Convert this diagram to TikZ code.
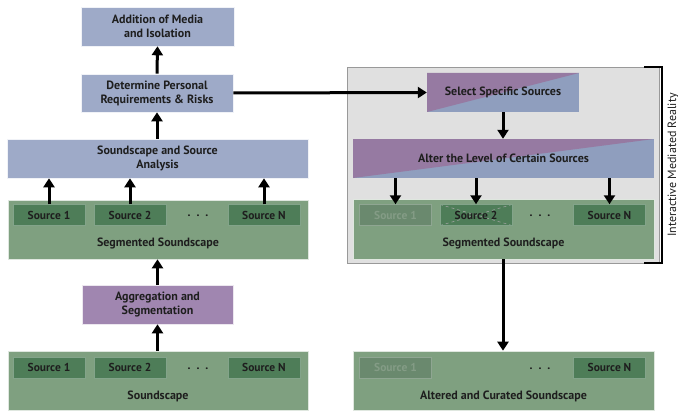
\documentclass[tikz,border=0pt]{standalone}
\usepackage{fontspec}
\setmainfont{PT Sans}
\usetikzlibrary{arrows.meta}

\definecolor{boxblue}{RGB}{158,170,200}
\definecolor{boxpurple}{RGB}{160,134,176}
\definecolor{splitpurple}{RGB}{150,122,162}
\definecolor{splitblue}{RGB}{143,158,190}
\definecolor{scapegreen}{RGB}{127,160,128}
\definecolor{srcgreen}{RGB}{78,125,88}
\definecolor{fadegreen}{RGB}{106,137,110}
\definecolor{fadetext}{RGB}{132,156,134}
\definecolor{areagrey}{RGB}{224,224,224}
\definecolor{textdark}{RGB}{30,30,30}

\tikzset{
  lbl/.style={font=\bfseries\fontsize{12}{14}\selectfont, text=textdark, align=center},
  bluebox/.style={lbl, fill=boxblue, draw=white!85!boxblue, line width=0.6pt},
  purplebox/.style={lbl, fill=boxpurple, draw=white!80!boxpurple, line width=0.6pt},
  splitbox/.style={lbl, fill=splitblue, path picture={
      \fill [splitpurple] (path picture bounding box.south west)
        -- (path picture bounding box.north west)
        -- (path picture bounding box.north east) -- cycle;}},
  scapebox/.style={fill=scapegreen, draw=white!75!scapegreen, line width=0.6pt},
  srcbox/.style={lbl, font=\bfseries\fontsize{11.5}{13}\selectfont, fill=srcgreen,
      draw=white!30!srcgreen, line width=0.5pt,
      minimum width=72, minimum height=21, inner sep=0pt},
  fadedsrc/.style={srcbox, fill=fadegreen, draw=white!25!fadegreen, text=fadetext},
  crossed/.style={path picture={
      \draw [dashed, gray!70, line width=0.5pt]
        (path picture bounding box.south west) -- (path picture bounding box.north east)
        (path picture bounding box.north west) -- (path picture bounding box.south east);}},
  arr/.style={line width=3pt, -{Triangle[width=11pt,length=9pt]}},
}

\begin{document}
\begin{tikzpicture}[x=1pt,y=-1pt]
    \useasboundingbox (0,0) rectangle (678,412);
    % left column
    \node [bluebox, minimum width=153, minimum height=39] (media) at (157.5,26.5) {Addition of Media\\and Isolation};
    \node [bluebox, minimum width=152, minimum height=38] (reqs) at (157,93) {Determine Personal\\Requirements \& Risks};
    \node [bluebox, minimum width=301, minimum height=39] (analysis) at (157.5,158.5) {Soundscape and Source\\Analysis};
    \node [scapebox, minimum width=300, minimum height=59] (segl) at (158,229.5) {};
    \node [srcbox] (segla) at (49,215) {Source 1};
    \node [srcbox] (seglb) at (130,215) {Source 2};
    \node [srcbox] (segln) at (264,215) {Source N};
    \node [lbl] (segldots) at (198,216) {.\,\,\,.\,\,\,.};
    \node [lbl] (segltext) at (158,243) {Segmented Soundscape};
    \node [purplebox, minimum width=151, minimum height=39] (agg) at (157.5,304.5) {Aggregation and\\Segmentation};
    \node [scapebox, minimum width=300, minimum height=59] (scape) at (158,380.5) {};
    \node [srcbox] (scapea) at (49,367.5) {Source 1};
    \node [srcbox] (scapeb) at (130,367.5) {Source 2};
    \node [srcbox] (scapen) at (264,367.5) {Source N};
    \node [lbl] (scapedots) at (198,368.5) {.\,\,\,.\,\,\,.};
    \node [lbl] (scapetext) at (158,396) {Soundscape};
    \draw [arr] (scape.north -| agg) -- (agg.south);
    \draw [arr] (agg.north) -- (segl.south -| agg);
    \draw [arr] (segla.north) -- (analysis.south -| segla);
    \draw [arr] (seglb.north) -- (analysis.south -| seglb);
    \draw [arr] (segln.north) -- (analysis.south -| segln);
    \draw [arr] (analysis.north -| reqs) -- (reqs.south);
    \draw [arr] (reqs.north) -- (media.south);
    % interactive mediated reality
    \node [fill=areagrey, draw=gray!80, line width=0.6pt, minimum width=312, minimum height=196] (imr) at (503,165) {};
    \draw [line width=2.2pt] ([xshift=-15pt]imr.north east) -- ([xshift=3pt]imr.north east)
        -- ([xshift=3pt]imr.south east) -- ([xshift=-15pt]imr.south east);
    \node [rotate=90, font=\fontsize{12}{14}\selectfont, text=textdark] (imrtext) at (673,165) {Interactive Mediated Reality};
    \node [splitbox, minimum width=152, minimum height=39] (select) at (503,92.5) {Select Specific Sources};
    \node [splitbox, minimum width=301, minimum height=39] (alter) at (503.5,158.5) {Alter the Level of Certain Sources};
    \node [scapebox, minimum width=301, minimum height=60] (segr) at (503.5,229) {};
    \node [fadedsrc] (segra) at (395.5,215) {Source 1};
    \node [srcbox, crossed] (segrb) at (476,215) {Source 2};
    \node [srcbox] (segrn) at (609.5,215) {Source N};
    \node [lbl] (segrdots) at (540,216) {.\,\,\,.\,\,\,.};
    \node [lbl] (segrtext) at (503.5,243) {Segmented Soundscape};
    \draw [arr] (reqs.east) -- (select.west);
    \draw [arr] (select.south) -- (alter.north -| select);
    \draw [arr] (alter.south -| segra) -- (segra.north);
    \draw [arr] (alter.south -| segrb) -- (segrb.north);
    \draw [arr] (alter.south -| segrn) -- (segrn.north);
    % result
    \node [scapebox, minimum width=301, minimum height=59] (curated) at (503.5,380.5) {};
    \node [fadedsrc] (cura) at (395.5,367.5) {Source 1};
    \node [srcbox] (curn) at (609.5,367.5) {Source N};
    \node [lbl] (curdots) at (540,368.5) {.\,\,\,.\,\,\,.};
    \node [lbl] (curtext) at (503.5,396) {Altered and Curated Soundscape};
    \draw [arr] (segr.south -| select) -- (curated.north -| select);
\end{tikzpicture}
\end{document}
